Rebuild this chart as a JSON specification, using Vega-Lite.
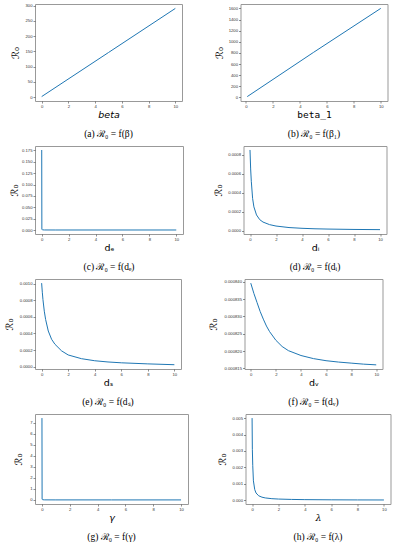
{
  "$schema": "https://vega.github.io/schema/vega-lite/v6.json",
  "background": "white",
  "padding": {"left": 3, "right": 2, "top": 3, "bottom": 2},
  "columns": 1,
  "align": "none",
  "spacing": 6,
  "datasets": {
    "a": [{"x": 0, "y": 2}, {"x": 5, "y": 146.5}, {"x": 10, "y": 291}],
    "b": [{"x": 0.1, "y": 16}, {"x": 5, "y": 808}, {"x": 10, "y": 1600}],
    "c": [{"x": 0, "y": 0.176}, {"x": 0.01, "y": 0.0016}, {"x": 0.05, "y": 0.00035}, {"x": 0.2, "y": 0.00009}, {"x": 1, "y": 0.00002}, {"x": 5, "y": 0.000004}, {"x": 10, "y": 0.000002}],
    "d": [{"x": 0, "y": 0.00085}, {"x": 0.05, "y": 0.00065}, {"x": 0.1, "y": 0.00052}, {"x": 0.2, "y": 0.00034}, {"x": 0.3, "y": 0.00025}, {"x": 0.5, "y": 0.000165}, {"x": 0.75, "y": 0.000115}, {"x": 1, "y": 0.00009}, {"x": 1.5, "y": 0.000063}, {"x": 2, "y": 0.000048}, {"x": 3, "y": 0.000032}, {"x": 4, "y": 0.000024}, {"x": 5, "y": 0.000019}, {"x": 6, "y": 0.000016}, {"x": 8, "y": 0.000012}, {"x": 10, "y": 0.00001}],
    "e": [{"x": 0, "y": 0.00101}, {"x": 0.05, "y": 0.0009}, {"x": 0.1, "y": 0.00081}, {"x": 0.2, "y": 0.00067}, {"x": 0.3, "y": 0.00057}, {"x": 0.5, "y": 0.00043}, {"x": 0.75, "y": 0.00033}, {"x": 1, "y": 0.00027}, {"x": 1.5, "y": 0.00019}, {"x": 2, "y": 0.00014}, {"x": 3, "y": 0.000095}, {"x": 4, "y": 0.00007}, {"x": 5, "y": 0.000055}, {"x": 6, "y": 0.000045}, {"x": 8, "y": 0.000032}, {"x": 10, "y": 0.000022}],
    "f": [{"x": 0, "y": 0.0008396}, {"x": 0.25, "y": 0.0008366}, {"x": 0.5, "y": 0.000834}, {"x": 0.75, "y": 0.0008314}, {"x": 1, "y": 0.0008292}, {"x": 1.25, "y": 0.0008272}, {"x": 1.5, "y": 0.0008256}, {"x": 2, "y": 0.0008231}, {"x": 2.5, "y": 0.0008213}, {"x": 3, "y": 0.0008201}, {"x": 4, "y": 0.0008187}, {"x": 5, "y": 0.0008178}, {"x": 6, "y": 0.0008172}, {"x": 7, "y": 0.0008168}, {"x": 8, "y": 0.0008165}, {"x": 9, "y": 0.0008162}, {"x": 10, "y": 0.000816}],
    "g": [{"x": 0, "y": 7.4}, {"x": 0.01, "y": 0.07}, {"x": 0.05, "y": 0.015}, {"x": 0.2, "y": 0.004}, {"x": 1, "y": 0.0008}, {"x": 5, "y": 0.00016}, {"x": 10, "y": 0.00008}],
    "h": [{"x": 0, "y": 0.005}, {"x": 0.02, "y": 0.0031}, {"x": 0.05, "y": 0.0021}, {"x": 0.1, "y": 0.00118}, {"x": 0.2, "y": 0.00065}, {"x": 0.3, "y": 0.00044}, {"x": 0.5, "y": 0.00027}, {"x": 0.75, "y": 0.000185}, {"x": 1, "y": 0.00014}, {"x": 1.5, "y": 0.000094}, {"x": 2, "y": 0.000071}, {"x": 3, "y": 0.000048}, {"x": 4, "y": 0.000036}, {"x": 6, "y": 0.000024}, {"x": 8, "y": 0.000018}, {"x": 10, "y": 0.000015}]
  },
  "config": {
    "view": {"stroke": "#999", "strokeWidth": 1},
    "axis": {"grid": false, "domain": false, "tickSize": 2, "tickColor": "#444", "tickWidth": 0.6, "labelFontSize": 4.2, "labelFont": "Liberation Sans", "labelColor": "#333", "labelPadding": 1, "titleFontWeight": "normal", "titleColor": "#000", "titleFont": "DejaVu Sans", "titleFontSize": 9.5},
    "axisY": {"titleFontSize": 10, "titlePadding": 2},
    "axisX": {"titlePadding": 1, "labelFlush": false},
    "title": {"orient": "bottom", "font": "Liberation Serif", "fontSize": 9.5, "fontWeight": "normal", "offset": 10, "color": "#000"},
    "line": {"color": "#1f77b4", "strokeWidth": 1}
  },
  "concat": [
    {"spacing": 30.5, "hconcat": [
      {"data": {"name": "a"}, "width": 147, "height": 97, "title": "(a) ℛ₀ = f(β)", "mark": "line",
       "encoding": {
        "x": {"field": "x", "type": "quantitative", "scale": {"domain": [-0.5, 10.5], "nice": false, "zero": false}, "axis": {"title": "beta", "titleFontStyle": "italic", "values": [0, 2, 4, 6, 8, 10]}},
        "y": {"field": "y", "type": "quantitative", "scale": {"domain": [-12.5, 305.5], "nice": false, "zero": false}, "axis": {"title": "ℛ₀", "values": [0, 50, 100, 150, 200, 250, 300], "format": "d", "minExtent": 13, "maxExtent": 13}}}},
      {"data": {"name": "b"}, "width": 147, "height": 97, "title": "(b) ℛ₀ = f(β₁)", "mark": "line",
       "encoding": {
        "x": {"field": "x", "type": "quantitative", "scale": {"domain": [-0.4, 10.5], "nice": false, "zero": false}, "axis": {"title": "beta_1", "titleFont": "DejaVu Sans Mono", "values": [0, 2, 4, 6, 8, 10]}},
        "y": {"field": "y", "type": "quantitative", "scale": {"domain": [-63, 1679], "nice": false, "zero": false}, "axis": {"title": "ℛ₀", "values": [0, 200, 400, 600, 800, 1000, 1200, 1400, 1600], "format": "d", "minExtent": 14.5, "maxExtent": 14.5}}}}
    ]},
    {"spacing": 28.5, "hconcat": [
      {"data": {"name": "c"}, "width": 148, "height": 88, "title": "(c) ℛ₀ = f(dₑ)", "mark": "line",
       "encoding": {
        "x": {"field": "x", "type": "quantitative", "scale": {"domain": [-0.5, 10.5], "nice": false, "zero": false}, "axis": {"title": "dₑ", "values": [0, 2, 4, 6, 8, 10]}},
        "y": {"field": "y", "type": "quantitative", "scale": {"domain": [-0.0088, 0.1848], "nice": false, "zero": false}, "axis": {"title": "ℛ₀", "values": [0, 0.025, 0.05, 0.075, 0.1, 0.125, 0.15, 0.175], "format": ".3f", "minExtent": 14, "maxExtent": 14}}}},
      {"data": {"name": "d"}, "width": 143, "height": 88, "title": "(d) ℛ₀ = f(dᵢ)", "mark": "line",
       "encoding": {
        "x": {"field": "x", "type": "quantitative", "scale": {"domain": [-0.5, 10.5], "nice": false, "zero": false}, "axis": {"title": "dᵢ", "values": [0, 2, 4, 6, 8, 10]}},
        "y": {"field": "y", "type": "quantitative", "scale": {"domain": [-0.000036, 0.000892], "nice": false, "zero": false}, "axis": {"title": "ℛ₀", "values": [0, 0.0002, 0.0004, 0.0006, 0.0008], "format": ".4f", "minExtent": 18.5, "maxExtent": 18.5}}}}
    ]},
    {"spacing": 25.5, "hconcat": [
      {"data": {"name": "e"}, "width": 146, "height": 90, "title": "(e) ℛ₀ = f(dₛ)", "mark": "line",
       "encoding": {
        "x": {"field": "x", "type": "quantitative", "scale": {"domain": [-0.5, 10.5], "nice": false, "zero": false}, "axis": {"title": "dₛ", "values": [0, 2, 4, 6, 8, 10]}},
        "y": {"field": "y", "type": "quantitative", "scale": {"domain": [-0.00003, 0.00106], "nice": false, "zero": false}, "axis": {"title": "ℛ₀", "values": [0, 0.0002, 0.0004, 0.0006, 0.0008, 0.001], "format": ".4f", "minExtent": 19, "maxExtent": 19}}}},
      {"data": {"name": "f"}, "width": 138, "height": 90, "title": "(f) ℛ₀ = f(dᵥ)", "mark": "line",
       "encoding": {
        "x": {"field": "x", "type": "quantitative", "scale": {"domain": [-0.5, 10.5], "nice": false, "zero": false}, "axis": {"title": "dᵥ", "values": [0, 2, 4, 6, 8, 10]}},
        "y": {"field": "y", "type": "quantitative", "scale": {"domain": [0.0008148, 0.0008408], "nice": false, "zero": false}, "axis": {"title": "ℛ₀", "values": [0.000815, 0.00082, 0.000825, 0.00083, 0.000835, 0.00084], "format": ".6f", "minExtent": 24.5, "maxExtent": 24.5}}}}
    ]},
    {"spacing": 27.5, "hconcat": [
      {"data": {"name": "g"}, "width": 153, "height": 90, "title": "(g) ℛ₀ = f(γ)", "mark": "line",
       "encoding": {
        "x": {"field": "x", "type": "quantitative", "scale": {"domain": [-0.5, 10.5], "nice": false, "zero": false}, "axis": {"title": "γ", "titleFontStyle": "italic", "values": [0, 2, 4, 6, 8, 10]}},
        "y": {"field": "y", "type": "quantitative", "scale": {"domain": [-0.37, 7.77], "nice": false, "zero": false}, "axis": {"title": "ℛ₀", "values": [0, 1, 2, 3, 4, 5, 6, 7], "format": "d", "minExtent": 10, "maxExtent": 10}}}},
      {"data": {"name": "h"}, "width": 145, "height": 90, "title": "(h) ℛ₀ = f(λ)", "mark": "line",
       "encoding": {
        "x": {"field": "x", "type": "quantitative", "scale": {"domain": [-0.5, 10.5], "nice": false, "zero": false}, "axis": {"title": "λ", "titleFont": "DejaVu Serif", "titleFontStyle": "italic", "values": [0, 2, 4, 6, 8, 10]}},
        "y": {"field": "y", "type": "quantitative", "scale": {"domain": [-0.00023, 0.00525], "nice": false, "zero": false}, "axis": {"title": "ℛ₀", "values": [0, 0.001, 0.002, 0.003, 0.004, 0.005], "format": ".3f", "minExtent": 16.5, "maxExtent": 16.5}}}}
    ]}
  ]
}
